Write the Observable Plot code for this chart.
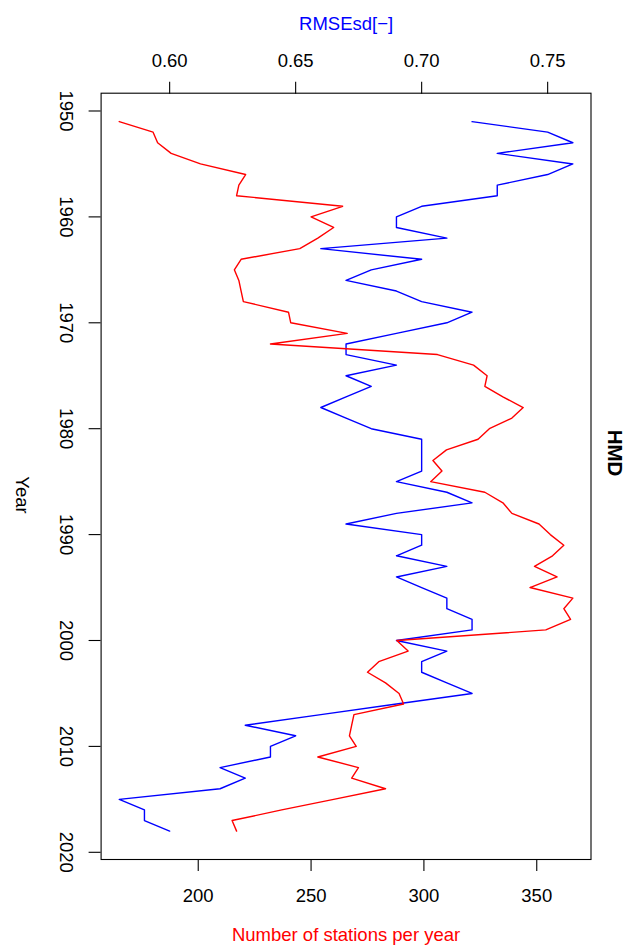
<!DOCTYPE html>
<html><head><meta charset="utf-8">
<script src="https://cdn.jsdelivr.net/npm/d3@7"></script>
<script src="https://cdn.jsdelivr.net/npm/@observablehq/plot@0.6"></script>
<style>
html,body{margin:0;padding:0;background:#fff;}
#chart{position:relative;width:631px;height:951px;}
#chart svg{position:absolute;left:0;top:0;}
</style>
</head><body><div id="chart"></div>
<script>
const years = [1951,1952,1953,1954,1955,1956,1957,1958,1959,1960,
  1961,1962,1963,1964,1965,1966,1967,1968,1969,1970,
  1971,1972,1973,1974,1975,1976,1977,1978,1979,1980,
  1981,1982,1983,1984,1985,1986,1987,1988,1989,1990,
  1991,1992,1993,1994,1995,1996,1997,1998,1999,2000,
  2001,2002,2003,2004,2005,2006,2007,2008,2009,2010,
  2011,2012,2013,2014,2015,2016,2017,2018];
const stations = [165,180,182,188,201,221,218,217,264,250,
  260,253,245,219,216,218,219,220,240,241,
  266,232,306,322,328,327,335,344,339,329,
  324,310,304,308,303,327,335,339,351,356,
  362,357,349,359,347,366,362,365,354,288,
  293,280,275,283,289,291,269,268,267,270,
  253,271,268,283,260,237,215,217];
const rmse = [0.72,0.75,0.76,0.73,0.76,0.75,0.73,0.73,0.70,0.69,
  0.69,0.71,0.66,0.70,0.68,0.67,0.69,0.70,0.72,0.71,
  0.69,0.67,0.67,0.69,0.67,0.68,0.67,0.66,0.67,0.68,
  0.70,0.70,0.70,0.70,0.69,0.71,0.72,0.69,0.67,0.70,
  0.70,0.69,0.71,0.69,0.70,0.71,0.71,0.72,0.72,0.69,
  0.71,0.70,0.70,0.71,0.72,0.69,0.66,0.63,0.65,0.64,
  0.64,0.62,0.63,0.62,0.58,0.59,0.59,0.60];
const yearTicks = [1950,1960,1970,1980,1990,2000,2010,2020];
const stationTicks = [200,250,300,350];
const rmseTicks = [0.60,0.65,0.70,0.75];

const W = 631, H = 951, mL = 100.6, mR = 40.5, mT = 92.7, mB = 92;
const font = "'Liberation Sans', Arial, Helvetica, sans-serif";
const FS = 18.5;
const yDomain = [1948.32, 2020.68];
const dataS = years.map((y, i) => ({year: y, v: stations[i]}));
const dataR = years.map((y, i) => ({year: y, v: rmse[i]}));

const common = {
  width: W, height: H,
  marginLeft: mL, marginRight: mR, marginTop: mT, marginBottom: mB,
  style: {fontFamily: font, background: "transparent", overflow: "visible"}
};

const pBlue = Plot.plot({
  ...common,
  x: {domain: [0.5728, 0.7672]},
  y: {domain: yDomain, reverse: true, axis: null},
  marks: [
    Plot.axisX(rmseTicks, {anchor: "top", tickSize: 12, tickPadding: 14, tickFormat: d => d.toFixed(2), fontSize: FS, label: null, stroke: "#000", strokeWidth: 1.1}),
    Plot.line(dataR, {x: "v", y: "year", stroke: "#0000ff", strokeWidth: 1.4}),
    Plot.text(["RMSEsd[\u2212]"], {frameAnchor: "top", dy: -76.7, fill: "#0000ff", fontSize: FS, text: d => d})
  ]
});

const pRed = Plot.plot({
  ...common,
  x: {domain: [156.96, 374.04]},
  y: {domain: yDomain, reverse: true},
  marks: [
    Plot.frame({stroke: "#000", strokeWidth: 1.1}),
    Plot.axisX(stationTicks, {anchor: "bottom", tickSize: 12, tickPadding: 17.3, fontSize: FS, label: null, stroke: "#000", strokeWidth: 1.1}),
    Plot.axisY(yearTicks, {anchor: "left", tickSize: 12, tickPadding: 23.6, tickRotate: 90, textAnchor: "middle", lineAnchor: "middle", fontSize: FS, label: null, tickFormat: d => String(d), stroke: "#000", strokeWidth: 1.1}),
    Plot.line(dataS, {x: "v", y: "year", stroke: "#ff0000", strokeWidth: 1.4}),
    Plot.text(["Number of stations per year"], {frameAnchor: "bottom", dy: 81, fill: "#ff0000", fontSize: FS, text: d => d}),
    Plot.text(["Year"], {frameAnchor: "left", dx: -79, rotate: 90, fontSize: FS, text: d => d}),
    Plot.text(["HMD"], {frameAnchor: "right", dx: 24, rotate: 90, fontSize: 20.5, fontWeight: "bold", text: d => d})
  ]
});

const chart = document.getElementById("chart");
chart.appendChild(pBlue);
chart.appendChild(pRed);
</script>
</body></html>
